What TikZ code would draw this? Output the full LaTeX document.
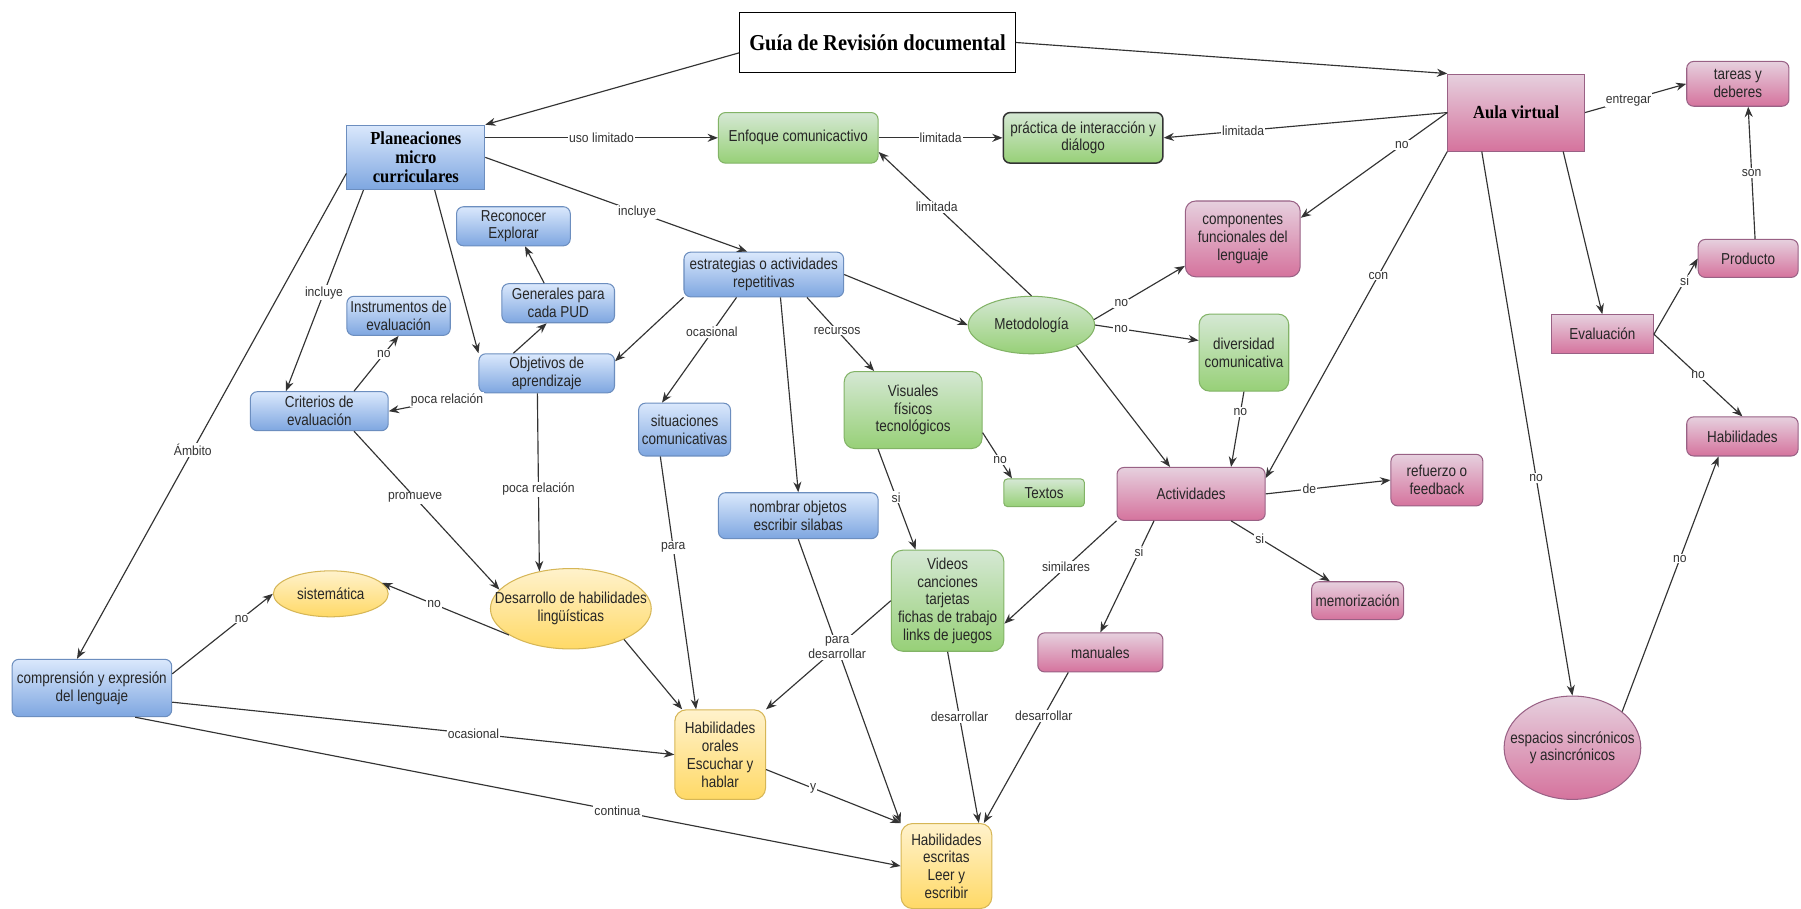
\documentclass[tikz,border=0pt]{standalone}
\usepackage{fontspec}
\setmainfont{Liberation Sans}[FakeStretch=0.85]
\newfontfamily\lblfont{Liberation Sans}[FakeStretch=0.92]
\newfontfamily\headfont{Liberation Serif}[FakeStretch=0.9]
\usepackage{xcolor}
\usepackage{tikz}
\usetikzlibrary{arrows.meta, shapes.geometric}

\definecolor{azulA}{HTML}{DAE8FC}
\definecolor{azulB}{HTML}{7EA6E0}
\definecolor{azulL}{HTML}{6C8EBF}
\definecolor{verdeA}{HTML}{D5E8D4}
\definecolor{verdeB}{HTML}{97D077}
\definecolor{verdeL}{HTML}{82B366}
\definecolor{rosaA}{HTML}{E6D0DE}
\definecolor{rosaB}{HTML}{D5739D}
\definecolor{rosaL}{HTML}{996185}
\definecolor{amaA}{HTML}{FFF2CC}
\definecolor{amaB}{HTML}{FFD966}
\definecolor{amaL}{HTML}{D6B656}
\definecolor{linea}{HTML}{333333}

\begin{document}
\begin{tikzpicture}[
        x=1pt, y=-1pt,
        caja/.style={draw, line width=0.9pt, align=center, inner sep=2pt, text=black!85,
            font=\fontsize{13.8}{15.5}\selectfont},
        redonda/.style={caja, rounded corners=6pt},
        ovalo/.style={caja, ellipse},
        azul/.style={top color=azulA, bottom color=azulB, draw=azulL},
        verde/.style={top color=verdeA, bottom color=verdeB, draw=verdeL},
        rosa/.style={top color=rosaA, bottom color=rosaB, draw=rosaL},
        amarillo/.style={top color=amaA, bottom color=amaB, draw=amaL},
        negrita/.style={font=\headfont\bfseries\fontsize{16}{16.5}\selectfont, text=black},
        cabecera/.style={caja, fill=white, draw=black, text=black,
            font=\headfont\bfseries\fontsize{19.8}{22}\selectfont},
        flecha/.style={draw=linea, line width=1pt, -{Stealth[length=9pt, width=7pt]}},
        lbl/.style={fill=white, inner sep=1pt, text=linea,
            font=\lblfont\fontsize{11.5}{13}\selectfont}
    ]
    \fill[white] (0,0) rectangle (1568,791);
    \useasboundingbox (0,0) rectangle (1568,791);

    % Nodos de arriba
    \node[cabecera, minimum width=240, minimum height=52] (guia) at (764,37) {Guía de Revisión documental};
    \node[caja, azul, negrita, minimum width=120, minimum height=56] (plan) at (362,137) {Planeaciones\\ micro\\ curriculares};
    \node[redonda, verde, minimum width=139, minimum height=44] (enfoque) at (695,120) {Enfoque comunicactivo};
    \node[redonda, verde, draw=black!80, line width=1.3pt, minimum width=139, minimum height=44] (practica) at (943,120) {práctica de interacción y\\ diálogo};
    \node[caja, rosa, negrita, minimum width=119, minimum height=67] (aula) at (1320,98) {Aula virtual};
    \node[redonda, rosa, minimum width=89, minimum height=39] (tareas) at (1513,73) {tareas y\\ deberes};

    % Nodos del medio
    \node[redonda, rosa, rounded corners=9pt, minimum width=100, minimum height=66] (comp) at (1082,208) {componentes\\ funcionales del\\ lenguaje};
    \node[redonda, rosa, minimum width=87, minimum height=33] (producto) at (1522,225) {Producto};
    \node[redonda, azul, minimum width=99, minimum height=34] (reconocer) at (447,197) {Reconocer\\ Explorar};
    \node[redonda, azul, minimum width=98, minimum height=34] (generales) at (486,264) {Generales para\\ cada PUD};
    \node[redonda, azul, minimum width=139, minimum height=39] (estrategias) at (665,239) {estrategias o actividades\\ repetitivas};
    \node[ovalo, verde, minimum width=110, minimum height=50] (metodo) at (898,283) {Metodología};
    \node[redonda, azul, minimum width=90, minimum height=34] (instr) at (347,275) {Instrumentos de\\ evaluación};
    \node[redonda, azul, minimum width=118, minimum height=34] (objetivos) at (476,325) {Objetivos de\\ aprendizaje};
    \node[redonda, azul, minimum width=120, minimum height=34] (criterios) at (278,358) {Criterios de\\ evaluación};
    \node[redonda, verde, rounded corners=9pt, minimum width=78, minimum height=67] (divers) at (1083,307) {diversidad\\ comunicativa};
    \node[caja, rosa, minimum width=89, minimum height=34] (evalua) at (1395,291) {Evaluación};
    \node[redonda, azul, minimum width=80, minimum height=46] (situ) at (596,374) {situaciones\\ comunicativas};
    \node[redonda, verde, rounded corners=9pt, minimum width=120, minimum height=67] (visuales) at (795,357) {Visuales\\ físicos\\ tecnológicos};
    \node[redonda, rosa, minimum width=97, minimum height=34] (habil) at (1517,380) {Habilidades};
    \node[redonda, verde, rounded corners=3pt, minimum width=70, minimum height=24] (textos) at (909,429) {Textos};
    \node[redonda, rosa, minimum width=129, minimum height=46] (activ) at (1037,430) {Actividades};
    \node[redonda, rosa, minimum width=80, minimum height=45] (refuerzo) at (1251,418) {refuerzo o\\ feedback};
    \node[redonda, azul, minimum width=139, minimum height=40] (nombrar) at (695,449) {nombrar objetos\\ escribir silabas};

    % Nodos de abajo
    \node[ovalo, amarillo, minimum width=100, minimum height=40] (sistem) at (288,517) {sistemática};
    \node[ovalo, amarillo, inner xsep=-18pt, minimum width=140, minimum height=70] (desarr) at (497,530) {Desarrollo de habilidades\\ lingüísticas};
    \node[redonda, verde, rounded corners=10pt, minimum width=98, minimum height=88] (videos) at (825,523) {Videos\\ canciones\\ tarjetas\\ fichas de trabajo\\ links de juegos};
    \node[redonda, rosa, minimum width=80, minimum height=33] (memo) at (1182,523) {memorización};
    \node[redonda, rosa, minimum width=109, minimum height=34] (manuales) at (958,568) {manuales};
    \node[redonda, azul, minimum width=139, minimum height=50] (compren) at (80,599) {comprensión y expresión\\ del lenguaje};
    \node[ovalo, rosa, inner xsep=-14pt, minimum width=119, minimum height=90] (espacios) at (1369,651) {espacios sincrónicos\\ y asincrónicos};
    \node[redonda, amarillo, rounded corners=10pt, minimum width=79, minimum height=78] (horales) at (627,657) {Habilidades\\ orales\\ Escuchar y\\ hablar};
    \node[redonda, amarillo, rounded corners=10pt, minimum width=79, minimum height=74] (hescritas) at (824,754) {Habilidades\\ escritas\\ Leer y\\ escribir};

    % Conectores desde arriba
    \draw[flecha] ([yshift=-9pt]guia.west) -- (plan.north east);
    \draw[flecha] (guia.east) -- (aula.north west);
    \draw[flecha] (plan.east |- enfoque.west) -- node[lbl] {uso limitado} (enfoque.west);
    \draw[flecha] (enfoque.east) -- node[lbl] {limitada} (practica.west);
    \draw[flecha] (aula.west) -- node[lbl, pos=0.72] {limitada} (practica.east);
    \draw[flecha] (aula.west) -- node[lbl, pos=0.31] {no} (comp.20);
    \draw[flecha] (aula.east) -- node[lbl, pos=0.43] {entregar} (tareas.west);
    \draw[flecha] ([xshift=6pt]producto.north) -- node[lbl] {son} ([xshift=9pt]tareas.south);
    \draw[flecha] ([xshift=-19pt]aula.south east) -- (evalua.north);
    \draw[flecha] (evalua.east) -- node[lbl, pos=0.7] {si} (producto.west);
    \draw[flecha] (evalua.east) -- node[lbl] {no} (habil.north);
    \draw[flecha] (espacios.36) -- node[lbl, pos=0.6] {no} (habil.220);
    \draw[flecha] ([xshift=30pt]aula.south west) -- node[lbl, pos=0.6] {no} (espacios.north);
    \draw[flecha] (aula.south west) -- node[lbl, pos=0.38] {con} (activ.12);

    % Conectores de Metodología y Actividades
    \draw[flecha] (metodo.north) -- node[lbl, pos=0.62] {limitada} (enfoque.350);
    \draw[flecha] (metodo.5) -- node[lbl, pos=0.3] {no} (comp.205);
    \draw[flecha] (metodo.east) -- node[lbl, pos=0.25] {no} (divers.165);
    \draw[flecha] (metodo.south east) -- (activ.128);
    \draw[flecha] (divers.south) -- node[lbl, pos=0.27] {no} (activ.34);
    \draw[flecha] (activ.east) -- node[lbl, pos=0.35] {de} (refuerzo.west);
    \draw[flecha] (activ.326) -- node[lbl, pos=0.29] {si} (memo.145);
    \draw[flecha] (activ.south west) -- node[lbl, pos=0.45] {similares} (videos.338);
    \draw[flecha] (activ.216) -- node[lbl, pos=0.28] {si} (manuales.north);
    \draw[flecha] (manuales.212) -- node[lbl, pos=0.29] {desarrollar} (hescritas.49);
    \draw[flecha] (videos.south) -- node[lbl, pos=0.38] {desarrollar} (hescritas.53);
    \draw[flecha] (nombrar.south) -- (hescritas.north west);
    \draw[flecha] (videos.west) -- node[lbl, pos=0.43, align=center] {para\\ desarrollar} (horales.north east);
    \draw[flecha] (horales.342) -- node[lbl, pos=0.35] {y} (hescritas.north west);

    % Conectores de la izquierda
    \draw[flecha] (compren.326) -- node[lbl, pos=0.63] {continua} (hescritas.west);
    \draw[flecha] (compren.350) -- node[lbl, pos=0.6] {ocasional} (horales.west);
    \draw[flecha] (compren.10) -- node[lbl, pos=0.69] {no} (sistem.west);
    \draw[flecha] (plan.193) -- node[lbl, pos=0.57] {Ámbito} (compren.117);
    \draw[flecha] (plan.212) -- node[lbl, pos=0.51] {incluye} (criterios.149);
    \draw[flecha] (plan.300) -- (objetivos.north west);
    \draw[flecha] (objetivos.149) -- (generales.240);
    \draw[flecha] (generales.125) -- (reconocer.300);
    \draw[flecha] (objetivos.south west) -- node[lbl, pos=0.35] {poca relación} (criterios.east);
    \draw[flecha] (criterios.30) -- node[lbl, pos=0.67] {no} (instr.south);
    \draw[flecha] (criterios.330) -- node[lbl, pos=0.42] {promueve} (desarr.165);
    \draw[flecha] (objetivos.245) -- node[lbl, pos=0.54] {poca relación} (desarr.130);
    \draw[flecha] (desarr.203) -- node[lbl, pos=0.59] {no} (sistem.12);
    \draw[flecha] (desarr.330) -- (horales.130);
    \draw[flecha] (situ.228) -- node[lbl, pos=0.36] {para} (horales.118);

    % Conectores de estrategias
    \draw[flecha] (plan.east) -- node[lbl, pos=0.58] {incluye} (estrategias.126);
    \draw[flecha] (estrategias.south west) -- (objetivos.10);
    \draw[flecha] (estrategias.220) -- node[lbl, pos=0.33] {ocasional} (situ.130);
    \draw[flecha] (estrategias.306) -- (nombrar.north);
    \draw[flecha] (estrategias.332) -- node[lbl, pos=0.45] {recursos} (visuales.135);
    \draw[flecha] (estrategias.east) -- (metodo.west);
    \draw[flecha] (visuales.342) -- node[lbl, pos=0.6] {no} (textos.156);
    \draw[flecha] (visuales.228) -- node[lbl, pos=0.48] {si} (videos.122);

\end{tikzpicture}
\end{document}
